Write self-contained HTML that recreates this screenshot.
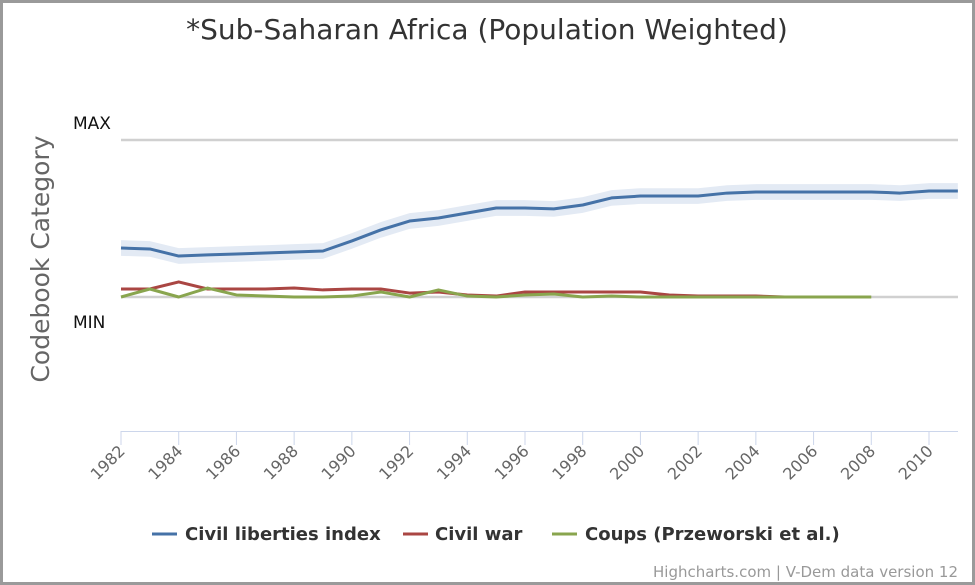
<!DOCTYPE html>
<html><head><meta charset="utf-8"><style>
html,body{margin:0;padding:0;background:#fff}
#wrap{position:relative;width:975px;height:585px;box-sizing:border-box;border:3px solid #9a9a9a;background:#fff;overflow:hidden}
svg{position:absolute;left:-3px;top:-3px}
text{font-family:"DejaVu Sans","Liberation Sans",sans-serif}
</style></head><body>
<div id="wrap">
<svg id="chart" width="975" height="585">
<text x="487" y="39" text-anchor="middle" font-size="28" fill="#333">*Sub-Saharan Africa (Population Weighted)</text>
<text transform="translate(49,259) rotate(-90)" text-anchor="middle" font-size="25" fill="#666">Codebook Category</text>
<line x1="121" x2="958" y1="140" y2="140" stroke="#d0d0d0" stroke-width="2.5"/>
<line x1="121" x2="958" y1="297" y2="297" stroke="#d0d0d0" stroke-width="2.5"/>
<text x="73" y="129" font-size="17" fill="#111">MAX</text>
<text x="73" y="328" font-size="17" fill="#111">MIN</text>
<line x1="121" x2="958" y1="431.5" y2="431.5" stroke="#ccd6eb" stroke-width="1"/>
<g id="xaxis"></g>
<g id="series"></g>
<g>
 <g><line x1="152" x2="177" y1="534" y2="534" stroke="#4572a7" stroke-width="3"/><text x="185" y="540" font-size="18" font-weight="bold" fill="#333">Civil liberties index</text></g>
 <g><line x1="403" x2="428" y1="534" y2="534" stroke="#aa4643" stroke-width="3"/><text x="435" y="540" font-size="18" font-weight="bold" fill="#333">Civil war</text></g>
 <g><line x1="552" x2="577" y1="534" y2="534" stroke="#89a54e" stroke-width="3"/><text x="585" y="540" font-size="18" font-weight="bold" fill="#333">Coups (Przeworski et al.)</text></g>
</g>
<text x="958" y="577" text-anchor="end" font-size="15" fill="#999">Highcharts.com | V-Dem data version 12</text>
</svg></div>
<script>
const years=[1982,1983,1984,1985,1986,1987,1988,1989,1990,1991,1992,1993,1994,1995,1996,1997,1998,1999,2000,2001,2002,2003,2004,2005,2006,2007,2008,2009,2010,2011];
const civilLiberties=[0.312,0.306,0.261,0.268,0.274,0.280,0.287,0.293,0.357,0.427,0.484,0.503,0.535,0.567,0.567,0.561,0.586,0.631,0.643,0.643,0.643,0.662,0.669,0.669,0.669,0.669,0.669,0.662,0.675,0.675];
const civilLibertiesBand=0.05;
const civilWar=[0.051,0.051,0.096,0.051,0.051,0.051,0.057,0.045,0.051,0.051,0.025,0.032,0.013,0.006,0.032,0.032,0.032,0.032,0.032,0.013,0.006,0.006,0.006,0,0];
const coups=[0,0.051,0,0.057,0.013,0.006,0,0,0.006,0.032,0,0.045,0.006,0,0.013,0.019,0,0.006,0,0,0,0,0,0,0,0,0];
const tickYears=[1982,1984,1986,1988,1990,1992,1994,1996,1998,2000,2002,2004,2006,2008,2010];
const NS="http://www.w3.org/2000/svg";
const X=y=>121+(y-1982)*(929-121)/28;
const Y=v=>297-v*157;
const xa=document.getElementById('xaxis');
tickYears.forEach(t=>{
 const l=document.createElementNS(NS,'line');
 l.setAttribute('x1',X(t));l.setAttribute('x2',X(t));l.setAttribute('y1',431);l.setAttribute('y2',445);
 l.setAttribute('stroke','#ccd6eb');
 
 
 xa.appendChild(l);
 const tx=document.createElementNS(NS,'text');
 tx.setAttribute('transform',`translate(${X(t)+5},${452}) rotate(-45)`);
 tx.setAttribute('text-anchor','end');tx.setAttribute('font-size','16');tx.setAttribute('fill','#666');
 tx.textContent=t;
 
 
 xa.appendChild(tx);
});
const sg=document.getElementById('series');
const up=civilLiberties.map((v,i)=>X(years[i])+','+Y(v+civilLibertiesBand));
const dn=civilLiberties.map((v,i)=>X(years[i])+','+Y(v-civilLibertiesBand)).reverse();
const band=document.createElementNS(NS,'polygon');
band.setAttribute('points',up.concat(dn).join(' '));
band.setAttribute('fill','#e3eaf4');


sg.appendChild(band);
function line(vals,color,name){
 const p=document.createElementNS(NS,'polyline');
 p.setAttribute('points',vals.map((v,i)=>X(years[i])+','+Y(v)).join(' '));
 p.setAttribute('fill','none');p.setAttribute('stroke',color);p.setAttribute('stroke-width','3');p.setAttribute('stroke-linejoin','round');
 
 
 sg.appendChild(p);
}
line(civilWar,'#aa4643','civil-war-line');
line(coups,'#89a54e','coups-line');
line(civilLiberties,'#4572a7','civil-liberties-line');
</script>
</body></html>
